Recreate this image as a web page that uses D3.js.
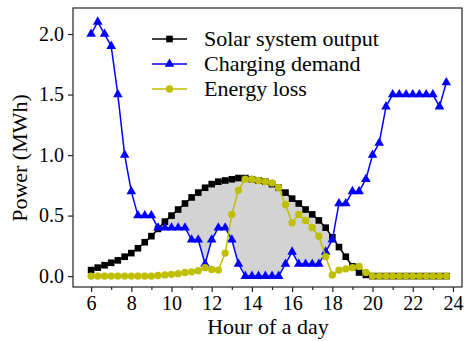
<!DOCTYPE html>
<html>
<head>
<meta charset="utf-8">
<script src="https://cdn.jsdelivr.net/npm/d3@7.9.0/dist/d3.min.js"></script>
<style>
  body { margin: 0; background: #fff; }
  svg { display: block; font-family: "Liberation Serif", "Times New Roman", serif; }
</style>
</head>
<body>
<svg id="chart" width="464" height="341"></svg>
<script>
// hour of day, 20-minute steps
const hours = [6, 6.33, 6.67, 7, 7.33, 7.67, 8, 8.33, 8.67, 9, 9.33, 9.67,
  10, 10.33, 10.67, 11, 11.33, 11.67, 12, 12.33, 12.67, 13, 13.33, 13.67,
  14, 14.33, 14.67, 15, 15.33, 15.67, 16, 16.33, 16.67, 17, 17.33, 17.67,
  18, 18.33, 18.67, 19, 19.33, 19.67, 20, 20.33, 20.67, 21, 21.33, 21.67,
  22, 22.33, 22.67, 23, 23.33, 23.67];

const solarOutput = [0.05, 0.07, 0.09, 0.11, 0.13, 0.16, 0.19, 0.23, 0.28, 0.33, 0.39, 0.45,
  0.50, 0.55, 0.60, 0.65, 0.69, 0.73, 0.76, 0.78, 0.79, 0.80, 0.81, 0.81,
  0.80, 0.79, 0.78, 0.76, 0.73, 0.69, 0.64, 0.60, 0.55, 0.51, 0.46, 0.40,
  0.32, 0.24, 0.16, 0.08, 0.03, 0.01, 0, 0, 0, 0, 0, 0,
  0, 0, 0, 0, 0, 0];

const chargingDemand = [2.0, 2.1, 2.0, 1.9, 1.5, 1.0, 0.7, 0.5, 0.5, 0.5, 0.4, 0.4,
  0.4, 0.4, 0.4, 0.3, 0.3, 0.1, 0.3, 0.4, 0.4, 0.3, 0.1, 0,
  0, 0, 0, 0, 0, 0.1, 0.2, 0.1, 0.1, 0.1, 0.1, 0.2,
  0.3, 0.6, 0.6, 0.7, 0.7, 0.8, 1.0, 1.1, 1.4, 1.5, 1.5, 1.5,
  1.5, 1.5, 1.5, 1.5, 1.4, 1.6];

const energyLoss = [0, 0, 0, 0, 0, 0, 0, 0, 0, 0, 0.005, 0.01,
  0.015, 0.02, 0.03, 0.035, 0.045, 0.07, 0.055, 0.05, 0.19, 0.51, 0.71, 0.80,
  0.80, 0.79, 0.78, 0.77, 0.73, 0.59, 0.44, 0.51, 0.46, 0.40, 0.33, 0.16,
  0.01, 0.05, 0.06, 0.07, 0.08, 0.03, 0, 0, 0, 0, 0, 0,
  0, 0, 0, 0, 0, 0];

const xTicks = [6, 8, 10, 12, 14, 16, 18, 20, 22, 24];
const xMinorTicks = [7, 9, 11, 13, 15, 17, 19, 21, 23];
const yTicks = [0, 0.5, 1.0, 1.5, 2.0];

const seriesNames = ['Solar system output', 'Charging demand', 'Energy loss'];

const svg = d3.select('#chart');

const plotLeft = 73, plotRight = 462, plotTop = 8, plotBottom = 287;

const x = d3.scaleLinear().domain([5.1, 24.45]).range([plotLeft, plotRight]);
const y = d3.scaleLinear().domain([-0.09, 2.215]).range([plotBottom, plotTop]);

// gray region where solar output is above the demand
let fillPts = [];
for (let i = 0; i < hours.length; i++) {
  let s = solarOutput[i], c = chargingDemand[i];
  fillPts.push({ h: hours[i], hi: s, lo: Math.min(s, c) });
  if (i < hours.length - 1) {
    let d0 = s - c, d1 = solarOutput[i + 1] - chargingDemand[i + 1];
    if (d0 * d1 < 0) {
      let t = d0 / (d0 - d1);
      let v = s + t * (solarOutput[i + 1] - s);
      fillPts.push({ h: hours[i] + t * (hours[i + 1] - hours[i]), hi: v, lo: v });
    }
  }
}

svg.append('path')
  .datum(fillPts)
  .attr('fill', '#d3d3d3')
  .attr('d', d3.area()
    .x((d) => x(d.h))
    .y0((d) => y(d.lo))
    .y1((d) => y(d.hi)));

const series = [
  { values: solarOutput, color: '#000000', marker: 'square' },
  { values: chargingDemand, color: '#0000ff', marker: 'triangle' },
  { values: energyLoss, color: '#bfbf00', marker: 'circle' },
];

const symbolOf = {
  square: d3.symbol().type(d3.symbolSquare).size(44),
  triangle: d3.symbol().type(d3.symbolTriangle).size(40),
  circle: d3.symbol().type(d3.symbolCircle).size(42),
};

const line = d3.line().x((d) => x(d[0])).y((d) => y(d[1]));

series.forEach((s) => {
  let pts = hours.map((h, i) => [h, s.values[i]]);
  let g = svg.append('g');
  g.append('path')
    .datum(pts)
    .attr('fill', 'none')
    .attr('stroke', s.color)
    .attr('stroke-width', 1.5)
    .attr('d', line);
  g.selectAll('path.mk')
    .data(pts)
    .join('path')
    .attr('class', 'mk')
    .attr('transform', (d) => `translate(${x(d[0])},${y(d[1])})`)
    .attr('d', symbolOf[s.marker])
    .attr('fill', s.color);
});

// frame
svg.append('rect')
  .attr('x', plotLeft).attr('y', plotTop)
  .attr('width', plotRight - plotLeft).attr('height', plotBottom - plotTop)
  .attr('fill', 'none')
  .attr('stroke', '#222')
  .attr('stroke-width', 1.2);

// x axis
let xAxis = svg.append('g')
  .attr('transform', `translate(0,${plotBottom})`)
  .call(d3.axisBottom(x).tickValues(xTicks).tickSize(5).tickSizeOuter(0).tickPadding(4));
xAxis.select('.domain').remove();
xAxis.selectAll('text').attr('font-size', 20).attr('font-family', 'Liberation Serif').attr('fill', '#000');

let xMinor = svg.append('g')
  .attr('transform', `translate(0,${plotBottom})`)
  .call(d3.axisBottom(x).tickValues(xMinorTicks).tickSize(3).tickFormat(''));
xMinor.select('.domain').remove();

// y axis
let yAxis = svg.append('g')
  .attr('transform', `translate(${plotLeft},0)`)
  .call(d3.axisLeft(y).tickValues(yTicks).tickSize(5).tickSizeOuter(0).tickPadding(4)
    .tickFormat(d3.format('.1f')));
yAxis.select('.domain').remove();
yAxis.selectAll('text').attr('font-size', 20).attr('font-family', 'Liberation Serif').attr('fill', '#000');

svg.selectAll('.tick line').attr('stroke', '#222').attr('stroke-width', 1.2);

// axis titles
svg.append('text')
  .attr('x', 268).attr('y', 334)
  .attr('text-anchor', 'middle')
  .attr('font-size', 22)
  .text('Hour of a day');

svg.append('text')
  .attr('transform', 'translate(27,158) rotate(-90)')
  .attr('text-anchor', 'middle')
  .attr('font-size', 22)
  .text('Power (MWh)');

// legend
let legend = svg.append('g');
series.forEach((s, i) => {
  let ly = 39 + i * 25;
  legend.append('line')
    .attr('x1', 152).attr('x2', 187)
    .attr('y1', ly).attr('y2', ly)
    .attr('stroke', s.color).attr('stroke-width', 1.5);
  legend.append('path')
    .attr('transform', `translate(169.5,${ly})`)
    .attr('d', symbolOf[s.marker])
    .attr('fill', s.color);
  legend.append('text')
    .attr('x', 204).attr('y', ly + 7)
    .attr('font-size', 22)
    .text(seriesNames[i]);
});
</script>
</body>
</html>
